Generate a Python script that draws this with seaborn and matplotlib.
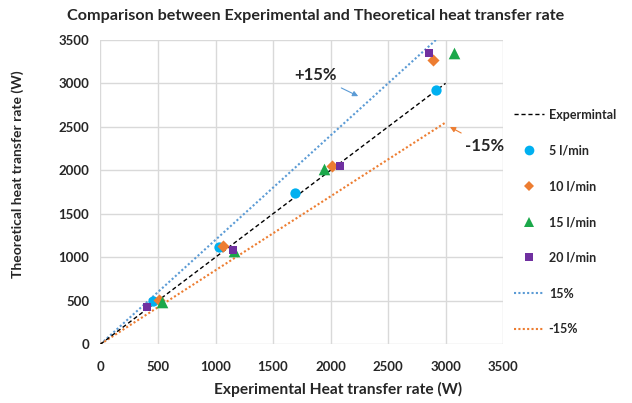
import pandas as pd
import matplotlib.pyplot as plt
import seaborn as sns
from matplotlib.lines import Line2D

# --- DATA ---
exp_5 = [458, 1032, 1693, 2916]
theo_5 = [491, 1114, 1736, 2919]
exp_10 = [507, 1067, 2012, 2887]
theo_10 = [511, 1125, 2055, 3264]
exp_15 = [536, 1160, 1942, 3072]
theo_15 = [480, 1075, 2020, 3352]
exp_20 = [406, 1154, 2081, 2858]
theo_20 = [430, 1087, 2055, 3345]

line_x = [0, 3000]
line_exp = [0, 3000]
line_plus = [0, 3600]
line_minus = [0, 2550]

ticks = [0, 500, 1000, 1500, 2000, 2500, 3000, 3500]
# ------------

sns.set_style("whitegrid")
plt.rcParams['font.family'] = ['Lato', 'DejaVu Sans']
plt.rcParams['font.weight'] = 'bold'

fig = plt.figure(figsize=(6.32, 4.03), dpi=100)
ax = fig.add_axes([0.159, 0.146, 0.637, 0.755])

C_BLUE = '#00B0F0'
C_ORANGE = '#ED7D31'
C_GREEN = '#1BA84A'
C_PURPLE = '#7030A0'
C_LBLUE = '#5B9BD5'
DOT = (0, (1, 1.1))

sns.lineplot(x=line_x, y=line_plus, ax=ax, color=C_LBLUE, lw=1.5,
             linestyle=DOT, zorder=2)
sns.lineplot(x=line_x, y=line_minus, ax=ax, color=C_ORANGE, lw=1.5,
             linestyle=DOT, zorder=2)
sns.lineplot(x=line_x, y=line_exp, ax=ax, color='black', lw=1.0,
             linestyle=(0, (3, 2)), zorder=3)

sns.scatterplot(x=exp_5, y=theo_5, ax=ax, color=C_BLUE, marker='o', s=55,
                linewidth=0, zorder=4)
sns.scatterplot(x=exp_10, y=theo_10, ax=ax, color=C_ORANGE, marker='D', s=38,
                linewidth=0, zorder=4)
sns.scatterplot(x=exp_15, y=theo_15, ax=ax, color=C_GREEN, marker='^', s=70,
                linewidth=0, zorder=4)
sns.scatterplot(x=exp_20, y=theo_20, ax=ax, color=C_PURPLE, marker='s', s=40,
                linewidth=0, zorder=4)

ax.set_xlim(0, 3500)
ax.set_ylim(0, 3500)
ax.set_xticks(ticks)
ax.set_yticks(ticks)
ax.tick_params(axis='y', labelsize=9.5, length=0, pad=8)
ax.tick_params(axis='x', labelsize=9.5, length=0, pad=12)
for lab in ax.get_xticklabels() + ax.get_yticklabels():
    lab.set_fontweight('bold')
ax.grid(True, color='#d9d9d9', lw=1)
for s in ax.spines.values():
    s.set_visible(False)

ax.set_xlabel('Experimental Heat transfer rate (W)', fontsize=11.2, fontweight='bold')
ax.xaxis.set_label_coords(0.59, -0.125)
ax.set_ylabel('Theoretical heat transfer rate (W)', fontsize=10, fontweight='bold')
ax.yaxis.set_label_coords(-0.19, 0.56)
fig.suptitle('Comparison between Experimental and Theoretical heat transfer rate',
             x=0.5, y=0.978, fontsize=11.6, fontweight='bold')

# annotations
ax.annotate('+15%', xy=(2262, 2839), xytext=(2055, 2999), fontsize=12, fontweight='bold',
            ha='right', va='bottom',
            arrowprops=dict(arrowstyle='-|>', color=C_LBLUE, lw=0.8, mutation_scale=8))
ax.annotate('-15%', xy=(3017, 2514), xytext=(3168, 2376), fontsize=12, fontweight='bold',
            ha='left', va='top', annotation_clip=False,
            arrowprops=dict(arrowstyle='-|>', color=C_ORANGE, lw=0.8, mutation_scale=8))

handles = [
    Line2D([], [], color='black', lw=1.0, linestyle=(0, (3, 2))),
    Line2D([], [], color=C_BLUE, marker='o', ls='', markersize=7, markeredgewidth=0),
    Line2D([], [], color=C_ORANGE, marker='D', ls='', markersize=5.5, markeredgewidth=0),
    Line2D([], [], color=C_GREEN, marker='^', ls='', markersize=7.5, markeredgewidth=0),
    Line2D([], [], color=C_PURPLE, marker='s', ls='', markersize=5.5, markeredgewidth=0),
    Line2D([], [], color=C_LBLUE, lw=1.5, linestyle=DOT),
    Line2D([], [], color=C_ORANGE, lw=1.5, linestyle=DOT),
]
labels = ['Expermintal', '5 l/min', '10 l/min', '15 l/min', '20 l/min', '15%', '-15%']
fig.legend(handles, labels, loc='upper left', bbox_to_anchor=(0.795, 0.758),
           frameon=False, labelspacing=1.9, handlelength=2.4,
           handletextpad=0.4, prop={'weight': 'bold', 'size': 9})

fig.savefig('out.png', dpi=100)
